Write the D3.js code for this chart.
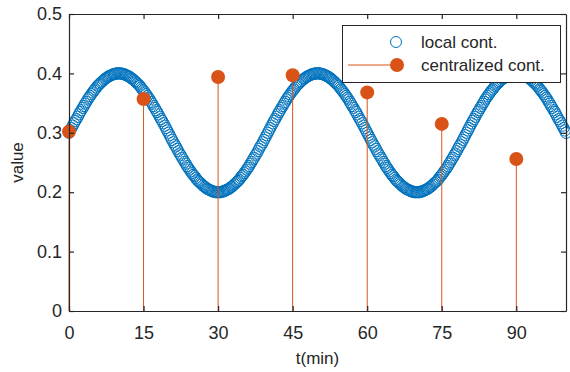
<!DOCTYPE html>
<html>
<head>
<meta charset="utf-8">
<script src="https://cdn.jsdelivr.net/npm/d3@7"></script>
<style>
  body { margin: 0; background: #fff; }
  text { font-family: "Liberation Sans", Arial, Helvetica, sans-serif; fill: #262626; }
</style>
</head>
<body>
<script>
// local controller: sampled every 0.25 min from 0 to 100
const localStep = 0.25;
const localValues = [
  0.300,0.304,0.308,0.312,0.316,0.320,0.323,0.327,0.331,0.335,0.338,0.342,0.345,0.349,0.352,0.356,0.359,0.362,0.365,0.368,
  0.371,0.373,0.376,0.379,0.381,0.383,0.385,0.387,0.389,0.391,0.392,0.394,0.395,0.396,0.397,0.398,0.399,0.399,0.400,0.400,0.400,
  0.400,0.400,0.399,0.399,0.398,0.397,0.396,0.395,0.394,0.392,0.391,0.389,0.387,0.385,0.383,0.381,0.379,0.376,0.373,0.371,
  0.368,0.365,0.362,0.359,0.356,0.352,0.349,0.345,0.342,0.338,0.335,0.331,0.327,0.323,0.320,0.316,0.312,0.308,0.304,0.300,
  0.296,0.292,0.288,0.284,0.280,0.277,0.273,0.269,0.265,0.262,0.258,0.255,0.251,0.248,0.244,0.241,0.238,0.235,0.232,0.229,
  0.227,0.224,0.221,0.219,0.217,0.215,0.213,0.211,0.209,0.208,0.206,0.205,0.204,0.203,0.202,0.201,0.201,0.200,0.200,0.200,
  0.200,0.200,0.201,0.201,0.202,0.203,0.204,0.205,0.206,0.208,0.209,0.211,0.213,0.215,0.217,0.219,0.221,0.224,0.227,0.229,
  0.232,0.235,0.238,0.241,0.244,0.248,0.251,0.255,0.258,0.262,0.265,0.269,0.273,0.277,0.280,0.284,0.288,0.292,0.296,
  0.300,0.304,0.308,0.312,0.316,0.320,0.323,0.327,0.331,0.335,0.338,0.342,0.345,0.349,0.352,0.356,0.359,0.362,0.365,0.368,
  0.371,0.373,0.376,0.379,0.381,0.383,0.385,0.387,0.389,0.391,0.392,0.394,0.395,0.396,0.397,0.398,0.399,0.399,0.400,0.400,0.400,
  0.400,0.400,0.399,0.399,0.398,0.397,0.396,0.395,0.394,0.392,0.391,0.389,0.387,0.385,0.383,0.381,0.379,0.376,0.373,0.371,
  0.368,0.365,0.362,0.359,0.356,0.352,0.349,0.345,0.342,0.338,0.335,0.331,0.327,0.323,0.320,0.316,0.312,0.308,0.304,0.300,
  0.296,0.292,0.288,0.284,0.280,0.277,0.273,0.269,0.265,0.262,0.258,0.255,0.251,0.248,0.244,0.241,0.238,0.235,0.232,0.229,
  0.227,0.224,0.221,0.219,0.217,0.215,0.213,0.211,0.209,0.208,0.206,0.205,0.204,0.203,0.202,0.201,0.201,0.200,0.200,0.200,
  0.200,0.200,0.201,0.201,0.202,0.203,0.204,0.205,0.206,0.208,0.209,0.211,0.213,0.215,0.217,0.219,0.221,0.224,0.227,0.229,
  0.232,0.235,0.238,0.241,0.244,0.248,0.251,0.255,0.258,0.262,0.265,0.269,0.273,0.277,0.280,0.284,0.288,0.292,0.296,
  0.300,0.304,0.308,0.312,0.316,0.320,0.323,0.327,0.331,0.335,0.338,0.342,0.345,0.349,0.352,0.356,0.359,0.362,0.365,0.368,
  0.371,0.373,0.376,0.379,0.381,0.383,0.385,0.387,0.389,0.391,0.392,0.394,0.395,0.396,0.397,0.398,0.399,0.399,0.400,0.400,0.400,
  0.400,0.400,0.399,0.399,0.398,0.397,0.396,0.395,0.394,0.392,0.391,0.389,0.387,0.385,0.383,0.381,0.379,0.376,0.373,0.371,
  0.368,0.365,0.362,0.359,0.356,0.352,0.349,0.345,0.342,0.338,0.335,0.331,0.327,0.323,0.320,0.316,0.312,0.308,0.304,0.300
];

// centralized controller: one value every 15 min
const centralT = [0, 15, 30, 45, 60, 75, 90];
const centralValues = [0.302, 0.357, 0.394, 0.397, 0.368, 0.315, 0.256];

const xTicks = [0, 15, 30, 45, 60, 75, 90];
const yTicks = [0, 0.1, 0.2, 0.3, 0.4, 0.5];
const legendLabels = ["local cont.", "centralized cont."];

const blue = "#0072BD", orange = "#D95319", axisColor = "#262626";

var width = 570, height = 372;
var plot = {left: 69, right: 566, top: 14, bottom: 311};

var svg = d3.select("body").append("svg")
  .attr("width", width)
  .attr("height", height);

var x = d3.scaleLinear().domain([0, 100]).range([plot.left, plot.right]);
var y = d3.scaleLinear().domain([0, 0.5]).range([plot.bottom, plot.top]);

let localData = localValues.map((v, i) => ({t: i * localStep, v: v}));
let centralData = centralT.map((t, i) => ({t: t, v: centralValues[i]}));

// local cont. (open circles)
svg.append("g").selectAll("circle")
  .data(localData)
  .enter().append("circle")
    .attr("cx", d => x(d.t))
    .attr("cy", d => y(d.v))
    .attr("r", 5.6)
    .attr("fill", "none")
    .attr("stroke", blue)
    .attr("stroke-width", 1);

// centralized cont. (stems)
svg.append("g").selectAll("line")
  .data(centralData)
  .enter().append("line")
    .attr("x1", d => x(d.t)).attr("x2", d => x(d.t))
    .attr("y1", y(0)).attr("y2", d => y(d.v))
    .attr("stroke", orange)
    .attr("stroke-width", 1);

svg.append("g").selectAll("circle")
  .data(centralData)
  .enter().append("circle")
    .attr("cx", d => x(d.t))
    .attr("cy", d => y(d.v))
    .attr("r", 7)
    .attr("fill", orange);

// axes
function styleAxis(g) {
  g.select(".domain").attr("stroke", axisColor).attr("stroke-width", 1.2);
  g.selectAll(".tick line").attr("stroke", axisColor).attr("stroke-width", 1.2);
  g.selectAll(".tick text").attr("fill", axisColor).style("font-size", "18px")
    .style("font-family", '"Liberation Sans", Arial, sans-serif');
}

svg.append("g")
  .attr("transform", "translate(0," + plot.bottom + ")")
  .call(d3.axisBottom(x).tickValues(xTicks).tickSizeInner(-5).tickSizeOuter(0).tickPadding(15).tickFormat(d3.format("d")))
  .call(styleAxis);

svg.append("g")
  .attr("transform", "translate(0," + plot.top + ")")
  .call(d3.axisTop(x).tickValues(xTicks).tickSizeInner(-5).tickSizeOuter(0).tickFormat(""))
  .call(styleAxis);

svg.append("g")
  .attr("transform", "translate(" + plot.left + ",0)")
  .call(d3.axisLeft(y).tickValues(yTicks).tickSizeInner(-5).tickSizeOuter(0).tickPadding(7).tickFormat(d => d === 0 ? "0" : d3.format(".1f")(d)))
  .call(styleAxis);

svg.append("g")
  .attr("transform", "translate(" + plot.right + ",0)")
  .call(d3.axisRight(y).tickValues(yTicks).tickSizeInner(-5).tickSizeOuter(0).tickFormat(""))
  .call(styleAxis);

// axis labels
svg.append("text")
  .attr("x", (plot.left + plot.right) / 2)
  .attr("y", 364)
  .attr("text-anchor", "middle")
  .style("font-size", "17px")
  .text("t(min)");

svg.append("text")
  .attr("transform", "translate(23," + ((plot.top + plot.bottom) / 2) + ")rotate(-90)")
  .attr("text-anchor", "middle")
  .style("font-size", "17px")
  .text("value");

// legend
var legend = svg.append("g");
legend.append("rect")
  .attr("x", 342.5).attr("y", 25.5)
  .attr("width", 218).attr("height", 57)
  .attr("fill", "#fff")
  .attr("stroke", axisColor)
  .attr("stroke-width", 1);

legend.append("circle")
  .attr("cx", 396).attr("cy", 42).attr("r", 5.5)
  .attr("fill", "none").attr("stroke", blue).attr("stroke-width", 1);

legend.append("line")
  .attr("x1", 348).attr("x2", 397).attr("y1", 65).attr("y2", 65)
  .attr("stroke", orange).attr("stroke-width", 1);
legend.append("circle")
  .attr("cx", 397).attr("cy", 65).attr("r", 7)
  .attr("fill", orange);

legend.selectAll(".lab")
  .data(legendLabels)
  .enter().append("text")
    .attr("class", "lab")
    .attr("x", 421)
    .attr("y", (d, i) => 48 + i * 23)
    .style("font-size", "17px")
    .text(d => d);
</script>
</body>
</html>
